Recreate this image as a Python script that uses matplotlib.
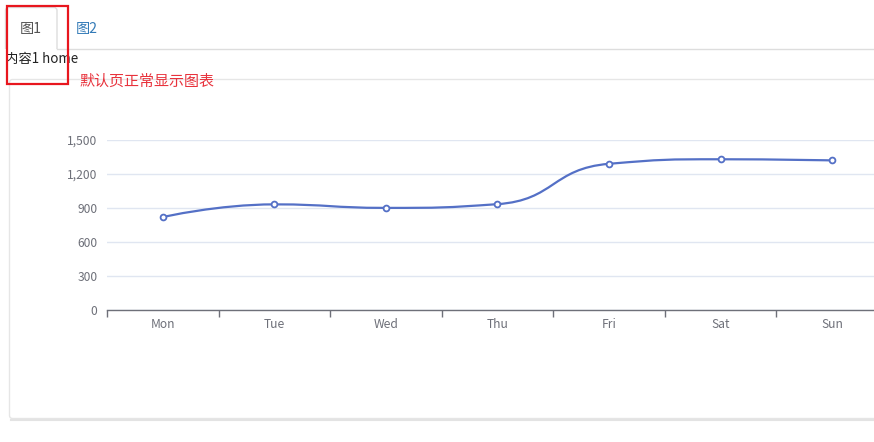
import matplotlib
matplotlib.use("Agg")
import matplotlib.pyplot as plt
from matplotlib.path import Path
from matplotlib.patches import PathPatch, Rectangle, FancyBboxPatch
import numpy as np

plt.rcParams['font.family'] = ['Noto Sans CJK SC', 'DejaVu Sans']

categories = ['Mon', 'Tue', 'Wed', 'Thu', 'Fri', 'Sat', 'Sun']
values = [820, 932, 901, 934, 1290, 1330, 1320]
y_ticks = [0, 300, 600, 900, 1200, 1500]
y_tick_labels = ['0', '300', '600', '900', '1,200', '1,500']
tab_labels = ['图1', '图2']
content_text = '内容1 home'
note_text = '默认页正常显示图表'

W, H = 874, 442
fig = plt.figure(figsize=(W / 100, H / 100), dpi=100)
fig.patch.set_facecolor('white')

# overlay in pixel coords
ov = fig.add_axes([0, 0, 1, 1], zorder=0)
ov.set_xlim(0, W)
ov.set_ylim(H, 0)
ov.axis('off')

# tabs
ov.add_patch(FancyBboxPatch((5.5, 7.5), 51.5, 50, boxstyle="round,pad=0,rounding_size=3",
                            facecolor='white', edgecolor='#dddddd', lw=1))
ov.add_patch(Rectangle((4, 49), 56, 10, facecolor='white', edgecolor='none', zorder=2))
ov.plot([57, W], [48.5, 48.5], color='#dddddd', lw=1, zorder=3)
ov.text(31, 28.5, tab_labels[0], color='#555555', fontsize=10.2, ha='center', va='center', zorder=4)
ov.text(87, 28.5, tab_labels[1], color='#337ab7', fontsize=10.2, ha='center', va='center', zorder=4)

# content panel
ov.add_patch(FancyBboxPatch((9.5, 79.5), W + 20, 339, boxstyle="round,pad=0,rounding_size=3",
                            facecolor='white', edgecolor='#e6e6e6', lw=1, zorder=0.5))
ov.plot([11, W], [419.5, 419.5], color='#e3e3e3', lw=1.5, zorder=0.6)

ov.text(5, 59, content_text, color='#222222', fontsize=9.6, ha='left', va='center', zorder=4)
ov.text(80, 82, note_text, color='#e8323c', fontsize=10.8, ha='left', va='center', zorder=4)

# red highlight box
ov.add_patch(Rectangle((7, 6), 61, 78, facecolor='none', edgecolor='#e8161e', lw=1.6, zorder=5))

# chart axes
left_px, right_px, top_px, bottom_px = 107, 888, 140, 310
ax = fig.add_axes([left_px / W, (H - bottom_px) / H, (right_px - left_px) / W,
                   (bottom_px - top_px) / H], zorder=2)
ax.patch.set_alpha(0)
n = len(categories)
ax.set_xlim(-0.5, n - 0.5)
ax.set_ylim(0, 1500)
for s in ['top', 'right', 'left']:
    ax.spines[s].set_visible(False)
ax.spines['bottom'].set_color('#6E7079')
ax.spines['bottom'].set_linewidth(1)
ax.spines['bottom'].set_zorder(4)

ax.set_yticks(y_ticks)
ax.set_yticklabels(y_tick_labels)
ax.tick_params(axis='y', length=0, pad=7, labelsize=8.7, labelcolor='#6E7079')
ax.yaxis.grid(True, color='#E0E6F1', lw=1)
ax.set_axisbelow(True)

ax.set_xticks(np.arange(n) - 0.5, minor=False)
ax.set_xticklabels([''] * n)
ax.tick_params(axis='x', which='major', length=5, color='#6E7079', width=1)
ax.set_xticks(np.arange(n), minor=True)
ax.set_xticklabels(categories, minor=True)
ax.tick_params(axis='x', which='minor', length=0, pad=6, labelsize=8.7, labelcolor='#6E7079')

# ECharts-style smooth bezier (smooth = 0.5, with extreme clamping)
sx = (right_px - left_px) / n
sy = (bottom_px - top_px) / 1500.0
xs = np.arange(n, dtype=float)
ys = np.array(values, dtype=float)
P = np.column_stack([xs * sx, ys * sy])
smooth = 0.5
verts = [tuple(P[0])]
codes = [Path.MOVETO]
cp0 = P[0].copy()
for i in range(1, n):
    x, y = P[i]
    prevX, prevY = P[i - 1]
    if i == n - 1:
        cp1 = np.array([x, y])
        nxt = np.array([x, y])
    else:
        nextX, nextY = P[i + 1]
        vx, vy = nextX - prevX, nextY - prevY
        dx0, dy0 = x - prevX, y - prevY
        dx1, dy1 = nextX - x, nextY - y
        lp = np.hypot(dx0, dy0)
        ln = np.hypot(dx1, dy1)
        r = ln / (ln + lp)
        c1x = x - vx * smooth * (1 - r)
        c1y = y - vy * smooth * (1 - r)
        nx0 = x + vx * smooth * r
        ny0 = y + vy * smooth * r
        nx0 = min(nx0, max(nextX, x)); nx0 = max(nx0, min(nextX, x))
        ny0 = min(ny0, max(nextY, y)); ny0 = max(ny0, min(nextY, y))
        vx, vy = nx0 - x, ny0 - y
        c1x = x - vx * lp / ln
        c1y = y - vy * lp / ln
        c1x = min(c1x, max(prevX, x)); c1x = max(c1x, min(prevX, x))
        c1y = min(c1y, max(prevY, y)); c1y = max(c1y, min(prevY, y))
        vx, vy = x - c1x, y - c1y
        nx0 = x + vx * ln / lp
        ny0 = y + vy * ln / lp
        cp1 = np.array([c1x, c1y])
        nxt = np.array([nx0, ny0])
    verts += [tuple(cp0), tuple(cp1), (x, y)]
    codes += [Path.CURVE4] * 3
    cp0 = nxt
verts = [(a / sx, b / sy) for a, b in verts]
ax.add_patch(PathPatch(Path(verts, codes), facecolor='none', edgecolor='#5470c6',
                       lw=1.6, zorder=3, capstyle='round', joinstyle='round'))
ax.plot(xs, ys, linestyle='none', marker='o', markersize=4.2, markerfacecolor='white',
        markeredgecolor='#5470c6', markeredgewidth=1.3, zorder=5, clip_on=False)

fig.savefig('out.png', dpi=100, facecolor='white')
